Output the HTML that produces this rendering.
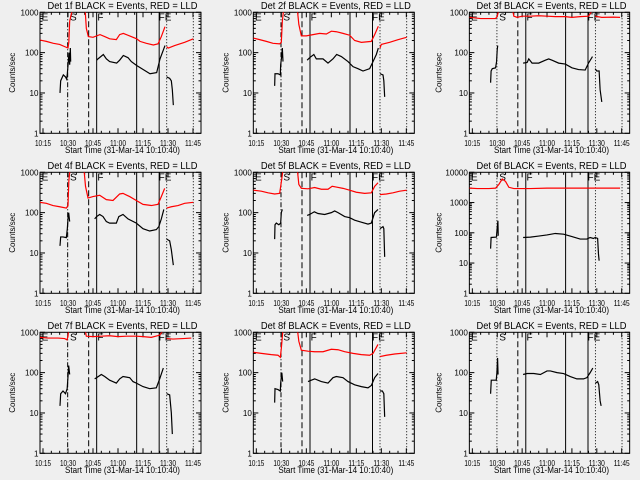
<!DOCTYPE html>
<html><head><meta charset="utf-8"><style>
html,body{margin:0;padding:0;background:#efefef;}
svg{display:block;font-family:"Liberation Sans",sans-serif;}
</style></head><body>
<svg id="chart" width="640" height="480" viewBox="0 0 640 480" xmlns="http://www.w3.org/2000/svg">
<rect width="640" height="480" fill="#efefef"/>
</svg>
<script>
// time in minutes after 10:00
const xTickLabels = ["10:15","10:30","10:45","11:00","11:15","11:30","11:45"];
const xTickMinutes = [15,30,45,60,75,90,105];
const eventLineMinutes = [29.8,42.4,47.2,71.2,84.7,89.2,105.2];
const eventLineStyles = ["dashdot","dashed","solid","solid","solid","dotted","dotted"];
const eventLabels = ["E","S","F","FE"];
const eventLabelMinutes = [14.2,31.2,47.6,84.4];
const detNames = ["1f","2f","3f","4f","5f","6f","7f","8f","9f"];
const yMaxDecades = [3,3,3,3,3,4,3,3,3];

const black1 = [[25.2,10],[25.6,20],[27.2,28],[28.5,25],[29.2,22],[29.6,30],[30.2,60],[30.6,100],[31,50],[31.4,130],[31.6,60],null,[47.2,65],[48,70],[51.2,90],[53,70],[55,60],[59.2,55],[61,65],[63.2,85],[66,75],[68,60],[71.2,48],[75.2,38],[79.2,30],[83.2,32],[85.2,70],[87,110],[88.2,150],null,[89.2,25],[91,23],[92,20],[92.6,12],[93.2,5]];
const red1 = [[13.2,205],[17,190],[21.2,170],[25,160],[28.2,140],[30,130],[30.5,180],[31,600],[32.2,1000],[33,1300],null,[40.2,1300],[41,400],[42.2,250],[45,240],[49.2,280],[52,250],[55,220],[59,210],[61,280],[63.2,300],[67,260],[71.2,220],[73.2,190],[77,170],[81.2,155],[84,165],[86,250],[88.2,440],null,[89.2,140],[90.2,130],[94,150],[100,180],[105.2,220]];
const black2 = [[26,15],[26.2,30],[28,30],[29.4,28],[29.6,50],[30.2,80],[30.6,130],[31,60],null,[45.5,65],[47,75],[49.5,90],[51,70],[55,70],[58,55],[61,70],[63.2,90],[66,80],[70,60],[73,45],[76,40],[79,35],[83,40],[85,60],[87,90],[88.2,130],null,[89.2,30],[91,28],[91.5,20],[92,8]];
const red2 = [[13.2,230],[17,210],[21,190],[25,170],[29,165],[30,180],[30.6,600],[31.2,1000],[32,1300],null,[39.5,1300],[40.5,500],[42,260],[45,260],[49,280],[53,300],[57,290],[60,340],[63,330],[67,300],[71,270],[74,200],[78,180],[84,190],[86,280],[88.2,450],null,[89.2,130],[90,160],[95,180],[100,210],[105.2,240]];
const black3 = [[26,18],[26.3,35],[27,40],[29,42],[29.6,60],[30,120],[30.3,150],null,[45.6,55],[48,57],[49,70],[51,55],[55,55],[59,65],[61,70],[63,65],[67,55],[71,52],[75,42],[79,38],[83,37],[85,55],[87.4,80],null,[89,40],[90,35],[91.4,35],[92,12],[93,6]];
const red3 = [[13.2,750],[20,700],[25,700],[29,700],[30,800],[30.6,1000],[31,1300],null,[39,1300],[40,800],[42,750],[45,800],[50,800],[55,820],[60,800],[65,780],[71,780],[75,750],[80,780],[85,800],[86.6,1000],[87,1300],null,[89,800],[93,750],[100,760],[104,750]];
const black4 = [[25.2,15],[25.6,25],[27,25],[29,24],[29.6,40],[30,70],[30.4,100],[31,60],null,[46,70],[47.2,80],[49,90],[51,80],[53,60],[55,55],[59,55],[60.5,80],[63,90],[66,70],[71,55],[75,40],[79,35],[83,38],[84.5,45],[86,70],[87.5,120],null,[89.2,22],[91,20],[92,12],[93.2,5]];
const red4 = [[13.2,180],[17,170],[21,150],[25,140],[29,130],[30,150],[30.5,600],[31,1000],[32,1300],null,[39.5,1300],[40.5,450],[42,230],[45,250],[49,270],[53,210],[57,200],[61,290],[63,300],[67,250],[71,200],[75,160],[80,150],[84,160],[86,250],[88,400],null,[89.2,130],[92,140],[96,150],[100,170],[105.2,180]];
const black5 = [[26,22],[26.2,50],[27,55],[28.5,50],[29.6,55],[30,100],[30.6,120],null,[45.5,85],[47,90],[49.8,105],[52,95],[56,90],[60,100],[62,110],[64,100],[68,80],[71,75],[74,65],[78,58],[82,52],[84,55],[86,100],[88,120],null,[89.2,40],[91,45],[91.5,40],[92,8]];
const red5 = [[13.2,360],[18,340],[22,310],[26,290],[29,300],[30.3,700],[31,1200],[32,1300],null,[39.5,1300],[40.5,500],[42,400],[46,390],[50,420],[54,380],[58,380],[60.5,450],[63,430],[67,400],[71,360],[75,320],[80,300],[84,310],[86,450],[88,550],null,[89.2,280],[93,290],[97,310],[101,340],[105.2,360]];
const black6 = [[26,30],[26.3,70],[29.5,72],[30,150],[30.4,250],[30.6,80],null,[45.6,70],[50,72],[55,78],[60,85],[65,95],[70,90],[75,75],[80,62],[84,62],[86,70],[88,65],[89,70],[90.5,65],[91,20],[91.4,12]];
const red6 = [[13.2,3000],[18,2900],[25,2900],[29,3000],[31,4000],[33,6000],[35,5000],[37,3200],[40,2900],[50,2900],[60,3000],[70,3000],[80,3000],[90,3000],[100,3000],[104,3000]];
const black7 = [[25.2,15],[25.6,30],[27,35],[28.5,30],[29.5,40],[30,80],[30.4,150],[31,90],null,[46,70],[47.2,75],[50,90],[52,80],[55,65],[59,55],[61,70],[63,80],[67,75],[69,60],[71,55],[75,45],[79,40],[83,42],[85,70],[87.2,130],null,[89.2,30],[91,28],[92,10],[92.6,3]];
const red7 = [[13.2,750],[18,720],[24,720],[28,700],[29.4,650],[30,800],[30.5,1300],null,[40,1300],[41,800],[45,780],[50,800],[55,820],[60,780],[65,800],[71,800],[75,780],[80,750],[85,850],[87,1100],null,[89.2,700],[93,680],[99,700],[104,720]];
const black8 = [[26,18],[26.2,40],[28,38],[29.4,35],[29.6,55],[30.3,100],[30.8,60],null,[46,60],[48,65],[50,70],[54,60],[58,55],[61,75],[63,80],[67,75],[70,60],[74,50],[78,45],[82,42],[84,48],[86,75],[88,95],null,[89.2,35],[90.6,35],[91.5,30],[92,8]];
const red8 = [[13.2,320],[18,300],[24,280],[28,270],[29.4,240],[30,400],[31,1200],null,[39.5,1300],[40.5,600],[42,360],[46,340],[50,330],[55,330],[60,380],[64,370],[68,330],[73,300],[78,280],[83,270],[85,300],[88,500],null,[89.2,250],[93,270],[98,290],[105.2,310]];
const black9 = [[26,30],[26.4,65],[28,65],[29.4,65],[29.8,100],[30.2,230],[30.5,90],null,[45.6,90],[48,95],[52,95],[56,90],[60,110],[62,110],[66,100],[70,95],[74,80],[78,70],[82,70],[84,75],[86,100],[87.6,130],null,[89.2,55],[90.5,60],[91.2,50],[92,20],[92.6,15]];
const red9 = [];

const blackSeries = [black1,black2,black3,black4,black5,black6,black7,black8,black9];
const redSeries = [red1,red2,red3,red4,red5,red6,red7,red8,red9];

const NS = "http://www.w3.org/2000/svg";
const svg = document.getElementById("chart");
const X0 = 13.2, X1 = 109.8;
function mk(tag, attrs, parent){
  const e = document.createElementNS(NS, tag);
  for (const k in attrs) e.setAttribute(k, attrs[k]);
  (parent||svg).appendChild(e);
  return e;
}
const defs = mk("defs", {});
const fit = {lengthAdjust: "spacingAndGlyphs"};

for (let p = 0; p < 9; p++) {
  const col = p % 3, row = Math.floor(p / 3);
  const ox = col * 213.33, oy = row * 160;
  const L = ox + (col === 2 ? 42.7 : 40), R = ox + (col === 2 ? 203 : 201);
  const T = oy + 12.3, B = oy + 133.3;
  const dec = yMaxDecades[p];
  const xs = m => L + (m - X0) / (X1 - X0) * (R - L);
  const ys = v => B - Math.log10(v) / dec * (B - T);

  const g = mk("g", {});
  
  

  const cp = mk("clipPath", {id: "clip" + p}, defs);
  mk("rect", {x: L, y: T, width: R - L, height: B - T}, cp);

  const title = mk("text", {x: (L + R) / 2 + 2, y: oy + 9, "font-size": 10, "text-anchor": "middle", fill: "#000", textLength: 150, lengthAdjust: "spacingAndGlyphs"}, g);
  title.textContent = "Det " + detNames[p] + " BLACK = Events, RED = LLD";
  
  

  const yl = mk("text", {x: 0, y: 0, "font-size": 8.5, "text-anchor": "middle", textLength: 40, lengthAdjust: "spacingAndGlyphs", transform: "translate(" + (ox + 15) + "," + ((T + B) / 2) + ") rotate(-90)"}, g);
  yl.textContent = "Counts/sec";
  
  

  const xl = mk("text", {x: (L + R) / 2 + 2, y: oy + 153, "font-size": 9.5, "text-anchor": "middle", textLength: 115, lengthAdjust: "spacingAndGlyphs"}, g);
  xl.textContent = "Start Time (31-Mar-14 10:10:40)";
  
  

  const box = mk("rect", {x: L, y: T, width: R - L, height: B - T, fill: "none", stroke: "#000", "stroke-width": 1}, g);
  
  

  for (let d = 0; d <= dec; d++) {
    const yy = ys(Math.pow(10, d));
    mk("line", {x1: L, x2: L + 5, y1: yy, y2: yy, stroke: "#000"}, g);
    mk("line", {x1: R, x2: R - 5, y1: yy, y2: yy, stroke: "#000"}, g);
    const s = String(Math.pow(10, d));
    const tl = mk("text", {x: L - 1.5, y: yy + 3, "font-size": 8.5, "text-anchor": "end", textLength: 4.5 * s.length, lengthAdjust: "spacingAndGlyphs"}, g);
    tl.textContent = s;
    
    
    if (d < dec) for (let k = 2; k < 10; k++) {
      const ym = ys(k * Math.pow(10, d));
      mk("line", {x1: L, x2: L + 2.5, y1: ym, y2: ym, stroke: "#000"}, g);
      mk("line", {x1: R, x2: R - 2.5, y1: ym, y2: ym, stroke: "#000"}, g);
    }
  }
  xTickMinutes.forEach((m, i) => {
    const xx = xs(m);
    mk("line", {x1: xx, x2: xx, y1: B, y2: B - 5, stroke: "#000"}, g);
    mk("line", {x1: xx, x2: xx, y1: T, y2: T + 5, stroke: "#000"}, g);
    const tl = mk("text", {x: xx, y: oy + 146, "font-size": 8.5, "text-anchor": "middle", textLength: 16, lengthAdjust: "spacingAndGlyphs"}, g);
    tl.textContent = xTickLabels[i];
    
    
  });
  for (let m = 15; m <= 109; m += 5) {
    if (m % 15 === 0) continue;
    const xx = xs(m);
    mk("line", {x1: xx, x2: xx, y1: B, y2: B - 2.5, stroke: "#000"}, g);
    mk("line", {x1: xx, x2: xx, y1: T, y2: T + 2.5, stroke: "#000"}, g);
  }

  eventLineMinutes.forEach((m, i) => {
    const xx = xs(m);
    let st = eventLineStyles[i];
    if (col === 2 && st === "dashdot") st = "dotted";
    const dash = st === "dashdot" ? "5,2,1,2" : st === "dashed" ? "6,3" : st === "dotted" ? "1,2" : "none";
    const ln = mk("line", {x1: xx, x2: xx, y1: T, y2: B, stroke: "#000", "stroke-width": 1, "stroke-dasharray": dash}, g);
    
    
  });
  eventLabels.forEach((lab, i) => {
    const t = mk("text", {x: xs(eventLabelMinutes[i]), y: T + 8, "font-size": 10}, g);
    t.textContent = lab;
    
    
  });

  function drawSeries(data, color, name) {
    let d = "", pen = false;
    data.forEach(pt => {
      if (pt === null) { pen = false; return; }
      d += (pen ? "L" : "M") + xs(pt[0]).toFixed(2) + "," + ys(pt[1]).toFixed(2);
      pen = true;
    });
    if (!d) return;
    const path = mk("path", {d: d, fill: "none", stroke: color, "stroke-width": 1.2, "clip-path": "url(#clip" + p + ")"}, g);
    
    
  }
  drawSeries(redSeries[p], "#ff0000", "lld-series-red");
  drawSeries(blackSeries[p], "#000000", "events-series-black");
}
</script>
</body></html>
